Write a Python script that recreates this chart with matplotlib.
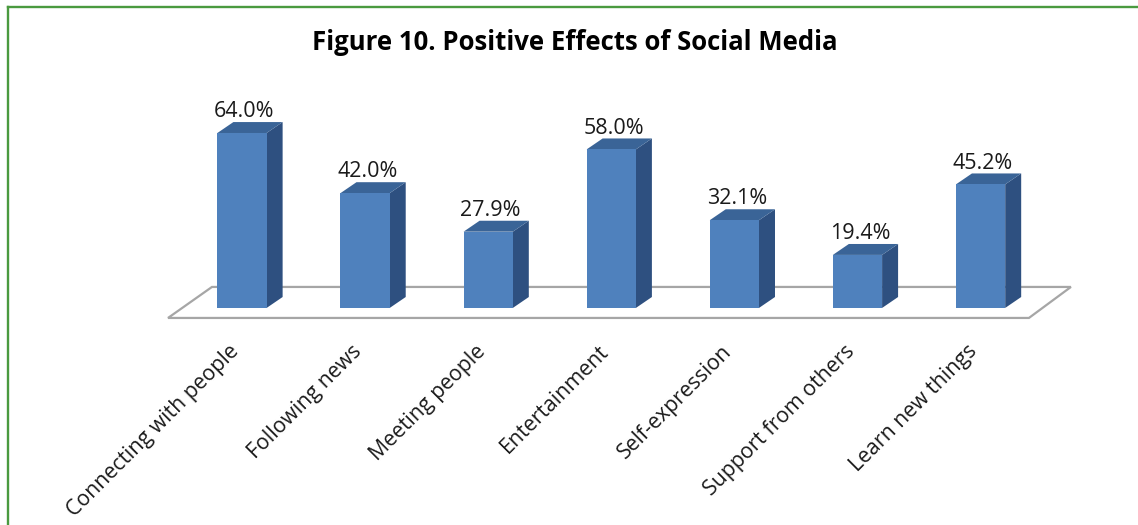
import matplotlib
matplotlib.use("Agg")
import matplotlib.pyplot as plt
from matplotlib.patches import Polygon, Rectangle
from matplotlib.lines import Line2D

categories = ["Connecting with people", "Following news", "Meeting people",
              "Entertainment", "Self-expression", "Support from others",
              "Learn new things"]
values = [64.0, 42.0, 27.9, 58.0, 32.1, 19.4, 45.2]
title = "Figure 10. Positive Effects of Social Media"

FONT = "Open Sans"
FRONT = "#4F81BD"
SIDE = "#2E5080"
TOP = "#3A6497"
FLOOR_EDGE = "#A6A6A6"

fig = plt.figure(figsize=(11.38, 5.25), dpi=100)
ax = fig.add_axes([0, 0, 1, 1])
ax.set_xlim(-1.966, 7.279)
ax.set_ylim(-79.4, 112.65)
ax.axis("off")

# oblique depth of the bars and of the floor (in data units)
bw = 0.4
ddx, ddy = 0.13, 4.0
n = len(values)

# floor plane
floor = Polygon([(-0.601, -3.66), (n - 1 + 0.393, -3.66),
                 (n - 1 + 0.734, 7.68), (-0.244, 7.68)],
                closed=True, facecolor="white", edgecolor=FLOOR_EDGE,
                linewidth=1.6, zorder=1)
ax.add_patch(floor)

for i, v in enumerate(values):
    x0, x1 = i - bw / 2, i + bw / 2
    ax.add_patch(Polygon([(x1, 0), (x1 + ddx, ddy), (x1 + ddx, v + ddy), (x1, v)],
                         closed=True, facecolor=SIDE, edgecolor="none", zorder=3))
    ax.add_patch(Polygon([(x0, v), (x1, v), (x1 + ddx, v + ddy), (x0 + ddx, v + ddy)],
                         closed=True, facecolor=TOP, edgecolor="none", zorder=3))
    ax.add_patch(Rectangle((x0, 0), bw, v, facecolor=FRONT, edgecolor="none", zorder=4))
    ax.text(i + 0.02, v + ddy + 1.8, f"{v:.1f}%", ha="center", va="baseline",
            fontsize=15.5, family=FONT, color="#1a1a1a", zorder=5)
    ax.text(i - 0.11, -12.0, categories[i], rotation=45, rotation_mode="anchor",
            ha="right", va="top", fontsize=15.3, family=FONT, color="#1a1a1a")

fig.text(575 / 1138, 1 - 42 / 525, title, ha="center", va="center",
         fontsize=18.5, fontweight="bold", family=FONT, color="black")

# frame lines along the top and left
border = "#4A9A3F"
fig.add_artist(Line2D([8 / 1138, 8 / 1138], [0, 1 - 7 / 525], color=border,
                      linewidth=1.7, transform=fig.transFigure))
fig.add_artist(Line2D([8 / 1138, 1], [1 - 7 / 525, 1 - 7 / 525], color=border,
                      linewidth=1.7, transform=fig.transFigure))

fig.savefig("out.png", dpi=100)
